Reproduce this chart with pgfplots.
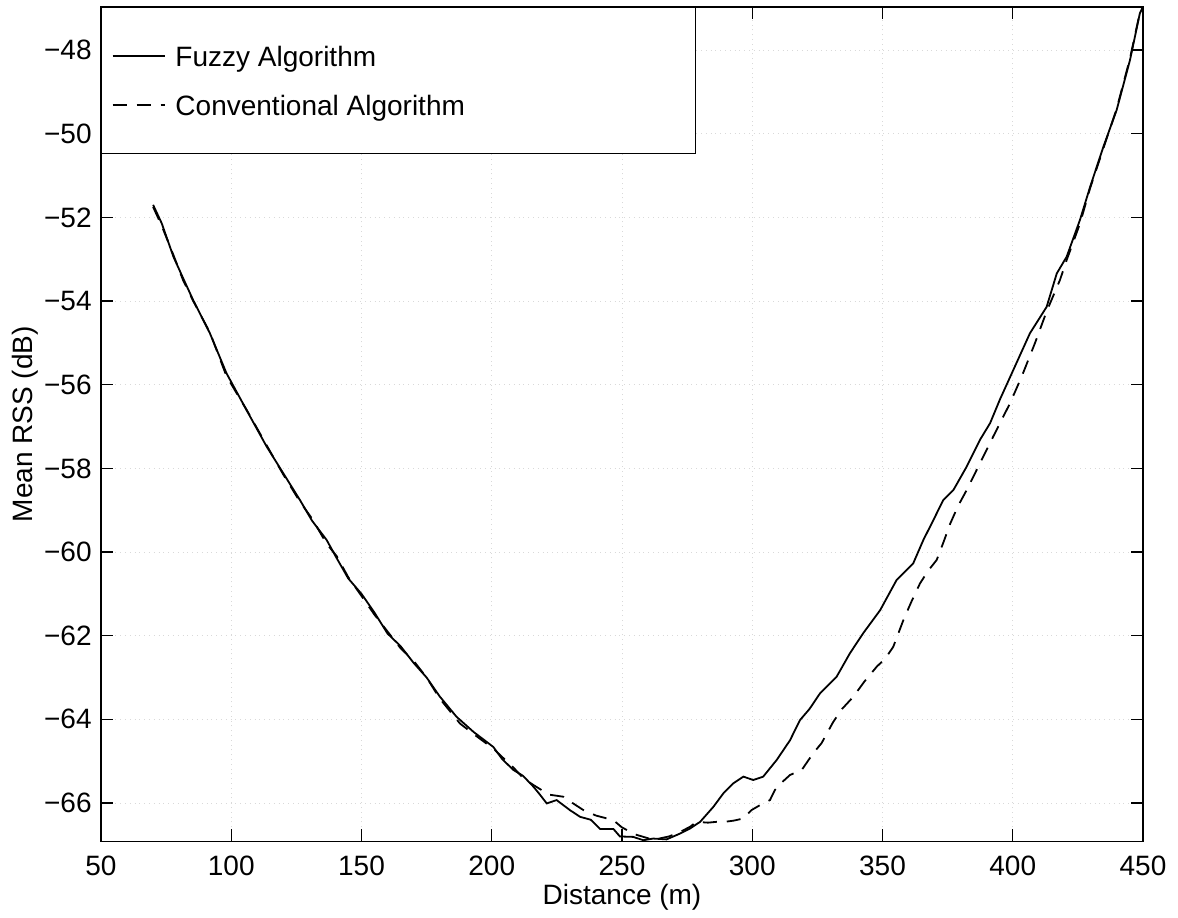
\documentclass[border=0pt]{standalone}
\usepackage{fontspec}
\setmainfont{Liberation Sans}
\usepackage{pgfplots}
\pgfplotsset{compat=1.18}
\begin{document}
\begin{tikzpicture}[font=\fontsize{14}{16.8}\selectfont]
\begin{axis}[
  name=ax,
  scale only axis,
  width=521pt, height=417.25pt,
  xmin=50, xmax=450, ymin=-66.92, ymax=-46.97,
  xtick={50,100,...,450},
  xticklabels={50,100,150,200,250,300,350,400,450},
  ytick={-66,-64,...,-48},
  yticklabels={−66,−64,−62,−60,−58,−56,−54,−52,−50,−48},
  tick align=inside, tick pos=both,
  major tick length=6pt,
  tick style={black, line width=0.6pt},
  axis line style={black, line width=0.8pt},
  grid=major,
  grid style={dotted, gray!30, line width=0.5pt},
  xticklabel style={anchor=base, yshift=-17.25pt},
  yticklabel style={inner sep=0pt, xshift=-4.5pt},
  xlabel={Distance (m)},
  ylabel={Mean RSS (dB)},
  xlabel style={at={(axis description cs:0.5,0)}, anchor=base, yshift=-31.75pt},
  ylabel style={at={(axis description cs:-0.0662,0.5)}, anchor=base},
  legend cell align=left,
  legend image code/.code={\draw[#1] (0pt,0pt) -- (26pt,0pt);},
  legend style={at={(0,1)}, anchor=north west, draw=black, line width=0.7pt,
    fill=white, inner xsep=5pt, inner ysep=12pt, row sep=0pt,
    column sep=5pt,
    nodes={inner sep=0pt, text height=17.25pt, text depth=7.25pt}},
]
\addplot[black, line width=0.9pt] coordinates {
(70,-51.70) (73.3,-52.14) (77.8,-52.94) (81.5,-53.45) (85.4,-53.98) (91.8,-54.77)
(98.2,-55.73) (105.9,-56.61) (113.6,-57.48) (120,-58.12) (126.4,-58.76) (131,-59.25)
(136.6,-59.71) (140.5,-60.15) (144.9,-60.63) (150,-61.0) (155,-61.45) (160,-61.95)
(165,-62.25) (170,-62.65) (175,-63.0) (180,-63.45) (186.5,-63.94) (193,-64.3)
(200.6,-64.66) (204,-64.95) (208.3,-65.21) (212,-65.35) (216,-65.61) (218.5,-65.8)
(221.1,-66.01) (224.9,-65.93) (230,-66.17) (233.9,-66.33) (238,-66.4) (241.6,-66.62)
(246.7,-66.62) (249.2,-66.8) (254.3,-66.81) (258.2,-66.89) (262,-66.85) (267.1,-66.87)
(272.3,-66.73) (276.1,-66.61) (280,-66.45) (285.1,-66.09) (288.9,-65.77) (292.7,-65.53)
(296.6,-65.37) (300.4,-65.45) (304.2,-65.37) (309.4,-64.97) (314.5,-64.5) (318.3,-64.02)
(322,-63.75) (326,-63.38) (332.4,-62.98) (337.5,-62.42) (342.6,-61.94) (349.1,-61.39)
(355.4,-60.67) (361.8,-60.27) (365.7,-59.71) (369.5,-59.24) (373.3,-58.76) (377.2,-58.52)
(382.3,-57.96) (387.4,-57.32) (391.3,-56.92) (395.1,-56.35) (400.2,-55.65) (406.6,-54.77)
(413,-54.14) (416.9,-53.34) (420.7,-52.94) (425.8,-52.06) (429.7,-51.27) (434.8,-50.31)
(439.9,-49.43) (445,-48.24) (448.8,-47.12) (450,-46.97)
};
\addlegendentry{\makebox[255pt][l]{Fuzzy Algorithm}}
\addplot[black, line width=0.9pt, dash pattern=on 7pt off 5pt] coordinates {
(70,-51.75) (73.3,-52.2) (77.8,-52.9) (81.5,-53.5) (85.4,-54.0) (91.8,-54.75)
(98.2,-55.8) (105.9,-56.6) (113.6,-57.45) (120,-58.15) (126.4,-58.8) (131,-59.2)
(136.6,-59.8) (140.5,-60.1) (144.9,-60.6) (150,-61.05) (155,-61.5) (160,-61.9)
(165,-62.3) (170,-62.6) (175,-63.0) (180,-63.5) (187.8,-64.1) (193,-64.35)
(200.6,-64.7) (204,-64.9) (208.3,-65.15) (212,-65.4) (216,-65.57) (222,-65.8)
(227.5,-65.85) (231,-66.0) (235.2,-66.17) (240,-66.3) (246.7,-66.41) (249.9,-66.58)
(255,-66.75) (262,-66.88) (268,-66.8) (272,-66.7) (276.1,-66.57) (278.6,-66.45)
(283,-66.47) (286.3,-66.45) (289.5,-66.45) (293,-66.42) (296.6,-66.37) (299.7,-66.17)
(303,-66.05) (306.8,-65.93) (308.7,-65.69) (311.5,-65.5) (314.5,-65.33) (319,-65.21)
(323.4,-64.81) (326.6,-64.57) (331.1,-64.06) (334.5,-63.75) (338.8,-63.46) (343,-63.1)
(347.8,-62.74) (351,-62.55) (354.1,-62.27) (358,-61.63) (361,-61.2) (364.4,-60.75)
(367.5,-60.45) (370.8,-60.19) (373.5,-59.75) (376,-59.32) (379,-58.9) (382.3,-58.52)
(387.4,-57.88) (392.5,-57.24) (398.9,-56.45) (403.4,-55.81) (408.5,-55.01) (413,-54.25)
(418.1,-53.5) (420.7,-53.02) (425.8,-52.15) (429.7,-51.3) (434.8,-50.35) (439.9,-49.4)
(445,-48.2) (448.8,-47.1) (450,-46.97)
};
\addlegendentry{\makebox[255pt][l]{Conventional Algorithm}}
\end{axis}
\pgfresetboundingbox
\path[use as bounding box] ([xshift=-50.5pt,yshift=-38.25pt]ax.south west) rectangle ([xshift=17.5pt,yshift=3.5pt]ax.north east);
\end{tikzpicture}
\end{document}
